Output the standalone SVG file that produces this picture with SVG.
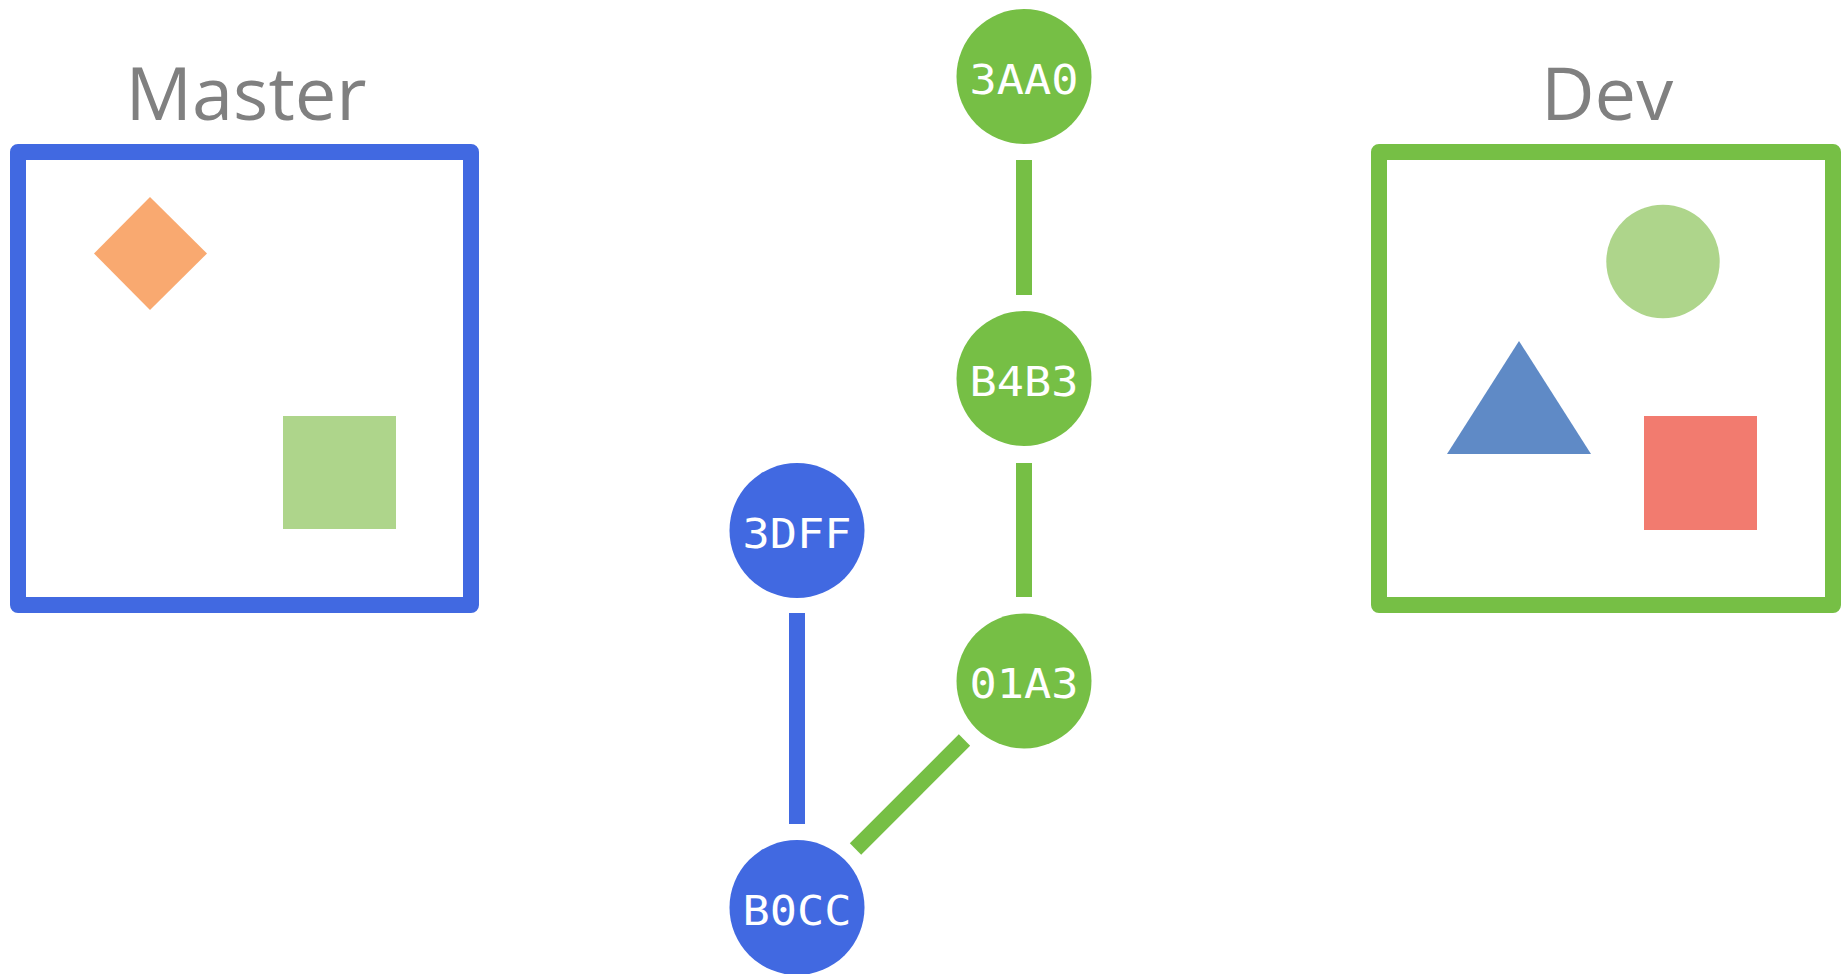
<svg xmlns="http://www.w3.org/2000/svg" width="1848" height="974" viewBox="0 0 1848 974">
<style>
.title{font-family:"Open Sans","Liberation Sans",sans-serif;font-size:74px;fill:#808080;text-anchor:middle}
.box{fill:none;stroke-width:16;stroke-linejoin:round}
.lbl{font-family:"DejaVu Sans Mono","Liberation Mono",monospace;font-size:41px;fill:#ffffff;text-anchor:middle}
.g{fill:#76bf45}
.b{fill:#4169e1}
.edge{stroke-width:16;fill:none;stroke-linecap:butt}
</style>
<rect width="1848" height="974" fill="#ffffff"/>
<g id="master">
<text class="title" x="246" y="120">Master</text>
<rect class="box" x="18" y="152" width="453" height="453" stroke="#4169e1"/>
<polygon points="150,197 207,253.5 150,310 94,253.5" fill="#f9a970"/>
<rect x="283" y="416" width="113" height="113" fill="#aed58b"/>
</g>
<g id="dev">
<text class="title" x="1607" y="120">Dev</text>
<rect class="box" x="1379" y="152" width="454" height="453" stroke="#76bf45"/>
<circle cx="1663" cy="261.5" r="56.7" fill="#aed58b"/>
<polygon points="1519,341 1591,454 1447,454" fill="#5f8ac6"/>
<rect x="1644" y="416" width="113" height="114" fill="#f27b6f"/>
</g>
<g id="connectors">
<line class="edge" x1="1024" y1="160" x2="1024" y2="295" stroke="#76bf45"/>
<line class="edge" x1="1024" y1="463" x2="1024" y2="597" stroke="#76bf45"/>
<line class="edge" x1="797" y1="613" x2="797" y2="824" stroke="#4169e1"/>
<line class="edge" x1="964.5" y1="740" x2="855.5" y2="849" stroke="#76bf45"/>
</g>
<g id="n3AA0"><circle class="g" cx="1024" cy="76.5" r="67.5"/><text class="lbl" x="1024" y="93.5" textLength="109" lengthAdjust="spacingAndGlyphs">3AA0</text></g>
<g id="nB4B3"><circle class="g" cx="1024" cy="378.5" r="67.5"/><text class="lbl" x="1024" y="395.5" textLength="109" lengthAdjust="spacingAndGlyphs">B4B3</text></g>
<g id="n01A3"><circle class="g" cx="1024" cy="681" r="67.5"/><text class="lbl" x="1024" y="698" textLength="109" lengthAdjust="spacingAndGlyphs">01A3</text></g>
<g id="n3DFF"><circle class="b" cx="797" cy="530.5" r="67.5"/><text class="lbl" x="797" y="547.5" textLength="109" lengthAdjust="spacingAndGlyphs">3DFF</text></g>
<g id="nB0CC"><circle class="b" cx="797" cy="907.5" r="67.5"/><text class="lbl" x="797" y="924.5" textLength="109" lengthAdjust="spacingAndGlyphs">B0CC</text></g>
</svg>
